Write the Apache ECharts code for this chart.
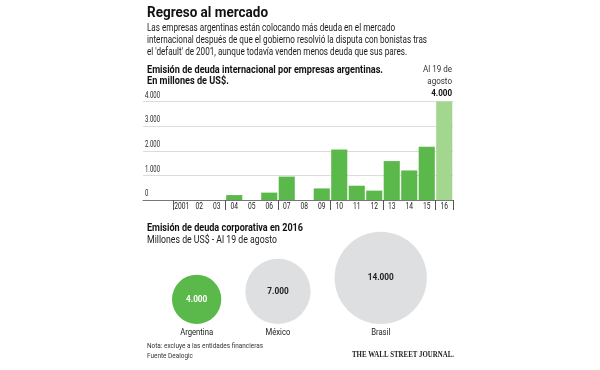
<!DOCTYPE html>
<html>
<head>
<meta charset="utf-8">
<script src="https://cdn.jsdelivr.net/npm/echarts@6/dist/echarts.min.js"></script>
<style>
html,body{margin:0;padding:0;background:#fff;}
#c{width:600px;height:370px;}
</style>
</head>
<body>
<div id="c"></div>
<script>
// ---- data ----
const years = ['2001','02','03','04','05','06','07','08','09','10','11','12','13','14','15','16'];
const issuance = [0,0,0,200,0,300,950,0,470,2050,580,380,1580,1200,2160,4000];
const yTicks = [0,1000,2000,3000,4000];
const countries = ['Argentina','México','Brasil'];
const debt2016 = [4000,7000,14000];
const partialNote = ['Al 19 de','agosto'];

const titleText = 'Regreso al mercado';
const introLines = [
  'Las empresas argentinas están colocando más deuda en el mercado',
  'internacional después de que el gobierno resolvió la disputa con bonistas tras',
  'el \'default\' de 2001, aunque todavía venden menos deuda que sus pares.'
];
const barHeader = ['Emisión de deuda internacional por empresas argentinas.', 'En millones de US$.'];
const bubbleHeader = 'Emisión de deuda corporativa en 2016';
const bubbleSub = 'Millones de US$ - Al 19 de agosto';
const notes = ['Nota: excluye a las entidades financieras', 'Fuente Dealogic'];
const brand = 'THE WALL STREET JOURNAL.';

// ---- styling ----
const FONT = 'Roboto';
const SERIF = "'Liberation Serif'";
const GREEN = '#5bb84a';
const LIGHT_GREEN = '#a3d68f';
const GRAY = '#dedfe1';
const INK = '#1a1a1a';
const fmt = v => String(v).replace(/\B(?=(\d{3})+(?!\d))/g, '.');

// horizontal condensing helper (the original uses a narrow typeface)
const mctx = document.createElement('canvas').getContext('2d');
function fitScale(text, size, weight, family, target) {
  mctx.font = `${weight} ${size}px ${family}`;
  return target / mctx.measureText(text).width;
}
function txt(text, x, y, size, weight, fill, scale, extra) {
  return {
    type: 'text', x: x, y: y, scaleX: scale, silent: true,
    style: Object.assign({ text: text, fontSize: size, fontWeight: weight, fontFamily: FONT, fill: fill,
      align: 'left', verticalAlign: 'middle' }, extra || {})
  };
}

const sTitle = fitScale(titleText, 14.5, 'bold', FONT, 121);
const sIntro = fitScale(introLines[1], 10.5, 'normal', FONT, 280);
const sBarHead = fitScale(barHeader[0], 10.5, 'bold', FONT, 236);
const sBubHead = fitScale(bubbleHeader, 10.5, 'bold', FONT, 156);
const sBubSub = fitScale(bubbleSub, 10.5, 'normal', FONT, 130);
const sNotes = fitScale(notes[0], 7.5, 'normal', FONT, 116);
const sBrand = fitScale(brand, 7.5, 'bold', SERIF, 102);
const sXLab = fitScale('2001', 9, 'normal', FONT, 15);
const sYLab = fitScale('4.000', 8.5, 'normal', FONT, 15);
const sNote = fitScale(partialNote[0], 9.5, 'normal', FONT, 29);
const sName = fitScale(countries[0], 8.5, 'normal', FONT, 33);
const sVal = fitScale(fmt(debt2016[2]), 9, 'bold', FONT, 26);

// bubble packing (sqrt scale, px per sqrt-unit)
const K = 0.39;
const GAP = 24 / K;
const radii = debt2016.map(v => Math.sqrt(v));
const bubbleX = [];
let cursor = 0;
radii.forEach(r => { bubbleX.push(cursor + r); cursor += 2 * r + GAP; });
const bubbleData = debt2016.map((v, i) => [bubbleX[i], 0, v]);

const chart = echarts.init(document.getElementById('c'), null, { renderer: 'canvas' });
const last = issuance.length - 1;

chart.setOption({
  backgroundColor: '#fff',
  animation: false,
  textStyle: { fontFamily: FONT },
  graphic: [
    txt(titleText, 147, 13.5, 14.5, 'bold', '#111', sTitle),
    txt(introLines.join('\n'), 147, 23, 10.5, 'normal', INK, sIntro, { verticalAlign: 'top', lineHeight: 11.6 }),
    txt(barHeader.join('\n'), 147, 64.5, 10.5, 'bold', '#111', sBarHead, { verticalAlign: 'top', lineHeight: 11 }),
    txt(bubbleHeader, 147, 228, 10.5, 'bold', '#111', sBubHead),
    txt(bubbleSub, 147, 240, 10.5, 'normal', INK, sBubSub),
    txt(notes.join('\n'), 147, 341, 7.5, 'normal', '#333', sNotes, { verticalAlign: 'top', lineHeight: 10 }),
    txt(brand, 454, 355, 7.5, 'bold', '#222', sBrand, { align: 'right', fontFamily: SERIF })
  ],
  grid: [
    { left: 173, right: 147, top: 101.5, bottom: 170 },   // bars
    { left: 143, right: 147, top: 101.5, bottom: 170 },   // gridlines & y labels
    { left: 172, width: 700 * K, top: 250, bottom: 46 }   // bubbles
  ],
  xAxis: [
    { gridIndex: 0, type: 'category', data: years, boundaryGap: true,
      axisLine: { show: false },
      axisTick: { show: true, length: 10, lineStyle: { color: '#555', width: 1 } },
      axisLabel: { show: false } },
    { gridIndex: 1, type: 'value', min: 0, max: 1, axisLine: { show: true, lineStyle: { color: '#777', width: 1 } },
      axisTick: { show: false }, axisLabel: { show: false }, splitLine: { show: false } },
    { gridIndex: 2, type: 'value', min: 0, max: 700, show: false }
  ],
  yAxis: [
    { gridIndex: 0, type: 'value', min: 0, max: 4000, interval: 1000, show: false },
    { gridIndex: 1, type: 'value', min: yTicks[0], max: yTicks[yTicks.length - 1], interval: yTicks[1] - yTicks[0],
      axisLine: { show: false }, axisTick: { show: false }, axisLabel: { show: false },
      splitLine: { show: true, lineStyle: { color: '#dcdcdc', width: 1 } } },
    { gridIndex: 2, type: 'value', min: 0, max: 1, show: false }
  ],
  series: [
    { type: 'bar', xAxisIndex: 0, yAxisIndex: 0, data: issuance, barCategoryGap: '8%',
      itemStyle: { color: p => p.dataIndex === last ? LIGHT_GREEN : GREEN } },
    // category labels (condensed)
    { type: 'custom', xAxisIndex: 0, yAxisIndex: 0, silent: true, clip: false, z: 5,
      data: years.map((y, i) => [i, 0]),
      renderItem: (params, api) => {
        const p = api.coord([api.value(0), 0]);
        return { type: 'text', x: p[0], y: p[1] + 6.5, scaleX: sXLab,
          style: { text: years[params.dataIndex], fontSize: 9, fontFamily: FONT, fill: '#222',
            align: 'center', verticalAlign: 'middle' } };
      } },
    // value labels (condensed), above gridlines
    { type: 'custom', xAxisIndex: 1, yAxisIndex: 1, silent: true, clip: false, z: 5,
      data: yTicks.map(v => [0, v]),
      renderItem: (params, api) => {
        const p = api.coord([0, api.value(1)]);
        return { type: 'text', x: p[0] + 2, y: p[1] - 1.5, scaleX: sYLab,
          style: { text: fmt(yTicks[params.dataIndex]), fontSize: 8.5, fontFamily: FONT, fill: '#222',
            align: 'left', verticalAlign: 'bottom' } };
      } },
    // partial-year annotation on the last bar
    { type: 'custom', xAxisIndex: 0, yAxisIndex: 0, silent: true, clip: false, z: 5,
      data: [[last, issuance[last]]],
      renderItem: (params, api) => {
        const p = api.coord([api.value(0), api.value(1)]);
        const xr = p[0] + api.size([1, 0])[0] / 2 - 1;
        const mk = (t, dy, w, c) => ({ type: 'text', x: xr, y: p[1] - dy, scaleX: sNote,
          style: { text: t, fontSize: 9.5, fontWeight: w, fontFamily: FONT, fill: c, align: 'right', verticalAlign: 'middle' } });
        return { type: 'group', children: [
          mk(partialNote[0], 31.5, 'normal', '#333'),
          mk(partialNote[1], 19.5, 'normal', '#333'),
          mk(fmt(api.value(1)), 7.5, 'bold', '#111')
        ] };
      } },
    // bubbles (area proportional to value), bottom-aligned
    { type: 'custom', xAxisIndex: 2, yAxisIndex: 2, silent: true, clip: false, z: 3,
      data: bubbleData,
      renderItem: (params, api) => {
        const i = params.dataIndex;
        const p = api.coord([api.value(0), api.value(1)]);
        const r = Math.sqrt(api.value(2)) * K;
        return { type: 'group', children: [
          { type: 'circle', shape: { cx: p[0], cy: p[1] - r, r: r },
            style: { fill: i === 0 ? GREEN : GRAY } },
          { type: 'text', x: p[0], y: p[1] - r, scaleX: sVal,
            style: { text: fmt(api.value(2)), fontSize: 9, fontWeight: 'bold', fontFamily: FONT,
              fill: i === 0 ? '#fff' : '#222', align: 'center', verticalAlign: 'middle' } },
          { type: 'text', x: p[0], y: p[1] + 9, scaleX: sName,
            style: { text: countries[i], fontSize: 8.5, fontFamily: FONT, fill: '#222',
              align: 'center', verticalAlign: 'middle' } }
        ] };
      } }
  ]
});
</script>
</body>
</html>
